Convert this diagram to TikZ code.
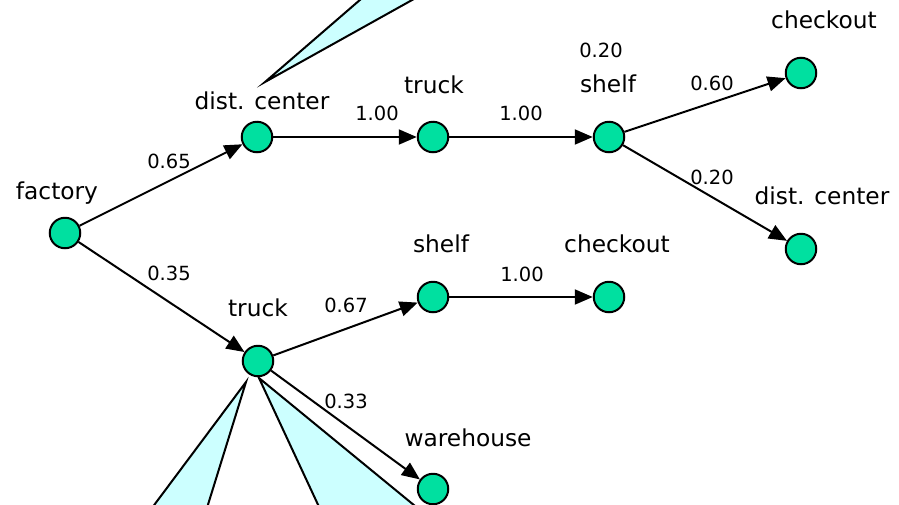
\documentclass[tikz,border=0pt]{standalone}
\usepackage{fontspec}
\setmainfont{DejaVu Sans}
\usetikzlibrary{arrows.meta}
\definecolor{nodefill}{RGB}{0,224,160}
\definecolor{callfill}{RGB}{204,255,255}
\begin{document}
\begin{tikzpicture}[x=1pt,y=-1pt,
  state/.style={circle,draw=black,line width=2pt,fill=nodefill,minimum size=30.5pt,inner sep=0pt},
  lbl/.style={font=\fontsize{23.3}{25}\selectfont,inner sep=0pt},
  prob/.style={font=\fontsize{19.5}{21}\selectfont,inner sep=0pt},
  edge/.style={-{Triangle[length=18pt,width=15pt]},line width=2pt},
  callout/.style={fill=callfill,draw=black,line width=2pt,line join=miter}]
\useasboundingbox (0,0) rectangle (899,504);
\clip (0,0) rectangle (899,504);
% callouts
\draw[callout] (265,82) -- (383,-20) -- (448,-20) -- cycle;
\draw[callout] (246,382) -- (140,524) -- (202,524) -- cycle;
\draw[callout] (259,378) -- (327,524) -- (437,524) -- cycle;
% states
\node[state] (fac) at (65,233) {};
\node[state] (dc1) at (257,137) {};
\node[state] (tr1) at (433,137) {};
\node[state] (sh1) at (609,137) {};
\node[state] (co1) at (801,73) {};
\node[state] (dc2) at (801,249) {};
\node[state] (tr2) at (258,361) {};
\node[state] (sh2) at (433,297) {};
\node[state] (co2) at (609,297) {};
\node[state] (wh) at (433,489) {};
% state labels
\node[lbl] (lfac) at (57,193) {factory};
\node[lbl] (ldc1) at (262,101) {dist. center};
\node[lbl] (ltr1) at (434,85) {truck};
\node[lbl] (lsh1) at (608,84) {shelf};
\node[lbl] (lco1) at (824,20) {checkout};
\node[lbl] (ldc2) at (822,196) {dist. center};
\node[lbl] (ltr2) at (258,308) {truck};
\node[lbl] (lsh2) at (441,244) {shelf};
\node[lbl] (lco2) at (617,244) {checkout};
\node[lbl] (lwh) at (468,438) {warehouse};
% probabilities
\node[prob] (p1) at (169,161) {0.65};
\node[prob] (p2) at (169,273) {0.35};
\node[prob] (p3) at (377,113) {1.00};
\node[prob] (p4) at (521,113) {1.00};
\node[prob] (p5) at (601,50) {0.20};
\node[prob] (p6) at (712,83) {0.60};
\node[prob] (p7) at (712,177) {0.20};
\node[prob] (p8) at (346,305) {0.67};
\node[prob] (p9) at (346,401) {0.33};
\node[prob] (p10) at (522,274) {1.00};
% edges
\draw[edge] (fac) -- (dc1);
\draw[edge] (fac) -- (tr2);
\draw[edge] (dc1) -- (tr1);
\draw[edge] (tr1) -- (sh1);
\draw[edge] (sh1) -- (co1);
\draw[edge] (sh1) -- (dc2);
\draw[edge] (tr2) -- (sh2);
\draw[edge] (tr2) -- (wh);
\draw[edge] (sh2) -- (co2);
\end{tikzpicture}
\end{document}
